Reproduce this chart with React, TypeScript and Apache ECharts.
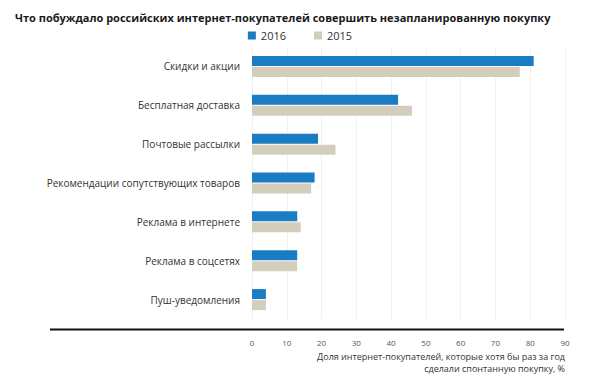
import React, { useEffect, useRef } from "react";
import * as echarts from "echarts";

const titleText = "Что побуждало российских интернет-покупателей совершить незапланированную покупку";
const categories = [
  "Скидки и акции",
  "Бесплатная доставка",
  "Почтовые рассылки",
  "Рекомендации сопутствующих товаров",
  "Реклама в интернете",
  "Реклама в соцсетях",
  "Пуш-уведомления",
];
const values2016 = [81, 42, 19, 18, 13, 13, 4];
const values2015 = [77, 46, 24, 17, 14, 13, 4];
const seriesNames = ["2016", "2015"];
const axisNameLines = [
  "Доля интернет-покупателей, которые хотя бы раз за год",
  "сделали спонтанную покупку, %",
];

export default function App() {
  const ref = useRef<HTMLDivElement>(null);
  useEffect(() => {
    document.body.style.margin = "0";
    if (!ref.current) return;
    const chart = echarts.init(ref.current, null, { renderer: "svg" });
    const font = "'Open Sans', sans-serif";
    chart.setOption({
      animation: false,
      backgroundColor: "#ffffff",
      textStyle: { fontFamily: font },
      title: {
        text: titleText,
        left: 10,
        top: 7,
        textStyle: { fontSize: 11, fontWeight: "bold", color: "#1a1a1a", fontFamily: font },
      },
      legend: {
        data: seriesNames,
        top: 25,
        left: "center",
        itemWidth: 8,
        itemHeight: 8,
        itemGap: 28,
        icon: "rect",
        textStyle: { fontSize: 11, color: "#333", fontFamily: font },
      },
      grid: { left: 252, right: 35, top: 47, height: 272, containLabel: false },
      xAxis: {
        type: "value",
        min: 0,
        max: 90,
        interval: 10,
        position: "bottom",
        offset: 11,
        axisLine: { show: false },
        axisTick: { show: false },
        axisLabel: { fontSize: 8, color: "#555", margin: 8, fontFamily: font },
        splitLine: { show: true, lineStyle: { color: "#f0f0f0", width: 1 } },
      },
      yAxis: {
        type: "category",
        data: categories,
        inverse: true,
        axisLine: { show: false },
        axisTick: { show: false },
        axisLabel: { fontSize: 10, color: "#333", margin: 12, fontFamily: font },
      },
      series: [
        {
          name: seriesNames[0],
          type: "bar",
          data: values2016,
          barWidth: 10,
          barGap: "10%",
          itemStyle: { color: "#1a7dc4" },
        },
        {
          name: seriesNames[1],
          type: "bar",
          data: values2015,
          barWidth: 10,
          barGap: "10%",
          itemStyle: { color: "#d3cebc" },
        },
      ],
      graphic: [
        {
          type: "line",
          shape: { x1: 50, y1: 329.5, x2: 564, y2: 329.5 },
          style: { stroke: "#111", lineWidth: 2 },
        },
        {
          type: "text",
          x: 565,
          y: 356,
          style: {
            text: axisNameLines[0],
            fontSize: 9,
            fill: "#333",
            align: "right",
            verticalAlign: "middle",
            fontFamily: font,
          },
        },
        {
          type: "text",
          x: 565,
          y: 368.5,
          style: {
            text: axisNameLines[1],
            fontSize: 9,
            fill: "#333",
            align: "right",
            verticalAlign: "middle",
            fontFamily: font,
          },
        },
      ],
    });
    return () => chart.dispose();
  }, []);
  return <div ref={ref} style={{ width: 600, height: 379 }} />;
}
